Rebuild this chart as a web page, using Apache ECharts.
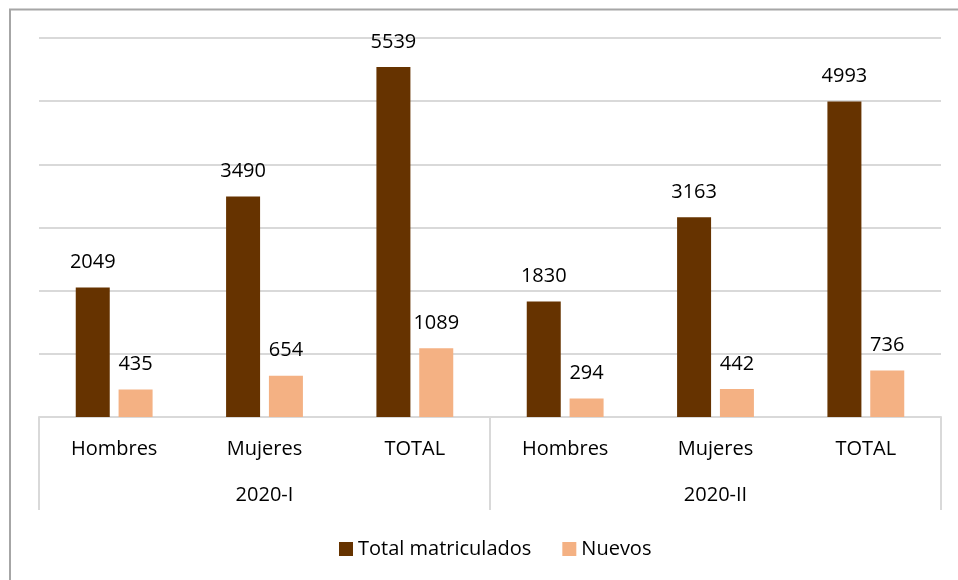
<!DOCTYPE html>
<html>
<head>
<meta charset="utf-8">
<script src="https://cdn.jsdelivr.net/npm/echarts@6/dist/echarts.min.js"></script>
<style>html,body{margin:0;padding:0;background:#fff}#c{width:958px;height:580px}</style>
</head>
<body>
<div id="c"></div>
<script>
const categories = ['Hombres','Mujeres','TOTAL','Hombres','Mujeres','TOTAL'];
const groups = ['2020-I','2020-II'];
const seriesNames = ['Total matriculados','Nuevos'];
const totalMatriculados = [2049, 3490, 5539, 1830, 3163, 4993];
const nuevos = [435, 654, 1089, 294, 442, 736];

const FONT = 'Open Sans';
const chart = echarts.init(document.getElementById('c'));
chart.setOption({
  backgroundColor: '#fff',
  animation: false,
  textStyle: { fontFamily: FONT },
  grid: { left: 39, right: 17, top: 38, bottom: 163 },
  legend: {
    data: seriesNames,
    left: 334, top: 534,
    itemWidth: 14, itemHeight: 14, itemGap: 31,
    icon: 'rect',
    textStyle: { fontFamily: FONT, fontSize: 20, color: '#000' }
  },
  xAxis: [
    {
      type: 'category', data: categories, position: 'bottom',
      axisLine: { show: true, lineStyle: { color: '#d9d9d9', width: 2 } },
      axisTick: { show: false },
      axisLabel: { fontFamily: FONT, fontSize: 20, color: '#000', margin: 22, interval: 0 }
    },
    {
      type: 'category', data: groups, position: 'bottom', offset: 0,
      axisLine: { show: false },
      axisTick: { show: true, length: 93, interval: 0, lineStyle: { color: '#d9d9d9', width: 2 } },
      axisLabel: { fontFamily: FONT, fontSize: 20, color: '#000', margin: 68 }
    }
  ],
  yAxis: {
    type: 'value', min: 0, max: 6000, interval: 1000,
    axisLabel: { show: false }, axisLine: { show: false }, axisTick: { show: false },
    splitLine: { lineStyle: { color: '#d9d9d9', width: 2 } }
  },
  series: [
    {
      name: seriesNames[0], type: 'bar', data: totalMatriculados,
      barWidth: 34, barGap: '26%',
      itemStyle: { color: '#663300' },
      label: { show: true, position: 'top', distance: 15, fontFamily: FONT, fontSize: 20, color: '#000' }
    },
    {
      name: seriesNames[1], type: 'bar', data: nuevos,
      barWidth: 34, barGap: '26%',
      itemStyle: { color: '#F4B183' },
      label: { show: true, position: 'top', distance: 15, fontFamily: FONT, fontSize: 20, color: '#000' }
    }
  ],
  graphic: [
    { type: 'polyline', shape: { points: [[10, 580], [10, 9.5], [958, 9.5]] },
      style: { stroke: '#a6a6a6', lineWidth: 2, fill: null } }
  ]
});
</script>
</body>
</html>
